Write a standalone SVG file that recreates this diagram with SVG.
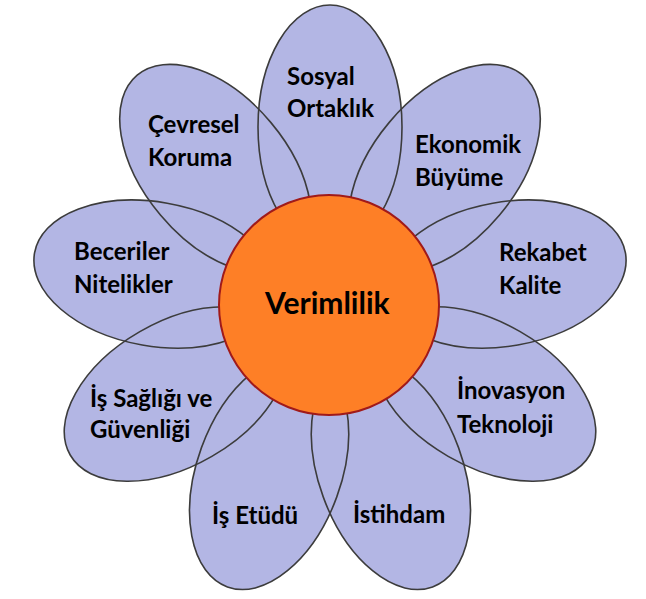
<svg xmlns="http://www.w3.org/2000/svg" xmlns:xlink="http://www.w3.org/1999/xlink" width="646" height="599" viewBox="0 0 646 599">
<style>
.petal{fill:#b3b6e4;stroke:none}
.outline{fill:none;stroke:#3c3c3c;stroke-width:1.6}
.lbl{font-family:Lato,"Liberation Sans",sans-serif;font-weight:bold;font-size:24px;fill:#000}
.ctr{font-family:Lato,"Liberation Sans",sans-serif;font-weight:bold;font-size:30px;fill:#000}
</style>
<defs>
<ellipse id="p" cx="330" cy="127" rx="72" ry="122"/>
</defs>
<rect width="646" height="599" fill="#fff"/>
<g id="petal-fills">
<use xlink:href="#p" class="petal"/>
<use xlink:href="#p" class="petal" transform="rotate(40 330 305)"/>
<use xlink:href="#p" class="petal" transform="rotate(80 330 305)"/>
<use xlink:href="#p" class="petal" transform="rotate(120 330 305)"/>
<use xlink:href="#p" class="petal" transform="rotate(160 330 305)"/>
<use xlink:href="#p" class="petal" transform="rotate(200 330 305)"/>
<use xlink:href="#p" class="petal" transform="rotate(240 330 305)"/>
<use xlink:href="#p" class="petal" transform="rotate(280 330 305)"/>
<use xlink:href="#p" class="petal" transform="rotate(320 330 305)"/>
</g>
<g id="petal-outlines">
<use xlink:href="#p" class="outline"/>
<use xlink:href="#p" class="outline" transform="rotate(40 330 305)"/>
<use xlink:href="#p" class="outline" transform="rotate(80 330 305)"/>
<use xlink:href="#p" class="outline" transform="rotate(120 330 305)"/>
<use xlink:href="#p" class="outline" transform="rotate(160 330 305)"/>
<use xlink:href="#p" class="outline" transform="rotate(200 330 305)"/>
<use xlink:href="#p" class="outline" transform="rotate(240 330 305)"/>
<use xlink:href="#p" class="outline" transform="rotate(280 330 305)"/>
<use xlink:href="#p" class="outline" transform="rotate(320 330 305)"/>
</g>
<g id="sosyal"><text class="lbl" x="287" y="85">Sosyal</text><text class="lbl" x="287" y="117">Ortaklık</text></g>
<g id="ekonomik"><text class="lbl" x="415" y="153">Ekonomik</text><text class="lbl" x="415" y="186">Büyüme</text></g>
<g id="rekabet"><text class="lbl" x="499" y="261">Rekabet</text><text class="lbl" x="499" y="294">Kalite</text></g>
<g id="inovasyon"><text class="lbl" x="457" y="399">İnovasyon</text><text class="lbl" x="457" y="433">Teknoloji</text></g>
<g id="istihdam"><text class="lbl" x="353" y="523">İstihdam</text></g>
<g id="is-etudu"><text class="lbl" x="212" y="524">İş Etüdü</text></g>
<g id="is-sagligi"><text class="lbl" x="90" y="407">İş Sağlığı ve</text><text class="lbl" x="90" y="438">Güvenliği</text></g>
<g id="beceriler"><text class="lbl" x="74" y="260">Beceriler</text><text class="lbl" x="74" y="293">Nitelikler</text></g>
<g id="cevresel"><text class="lbl" x="148" y="133">Çevresel</text><text class="lbl" x="148" y="166">Koruma</text></g>
<g id="verimlilik">
<circle cx="329" cy="305" r="110" fill="#fe7f26" stroke="#a01a1a" stroke-width="2"/>
<text class="ctr" x="265" y="314">Verimlilik</text>
</g>
</svg>
